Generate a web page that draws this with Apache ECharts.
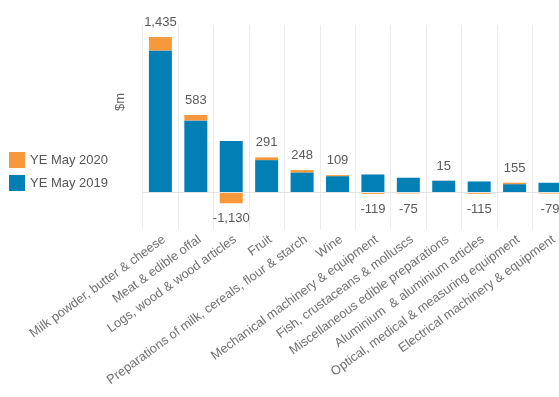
<!DOCTYPE html>
<html>
<head>
<meta charset="utf-8">
<script src="https://cdn.jsdelivr.net/npm/echarts@6/dist/echarts.min.js"></script>
<style>
html,body{margin:0;padding:0;background:#fff;}
#chart{width:559px;height:397px;}
</style>
</head>
<body>
<div id="chart"></div>
<script>
const categories = [
  'Milk powder, butter & cheese',
  'Meat & edible offal',
  'Logs, wood & wood articles',
  'Fruit',
  'Preparations of milk, cereals, flour & starch',
  'Wine',
  'Mechanical machinery & equipment',
  'Fish, crustaceans & molluscs',
  'Miscellaneous edible preparations',
  'Aluminium  & aluminium articles',
  'Optical, medical & measuring equipment',
  'Electrical machinery & equipment'
];
const ye2019 = [15270, 7760, 5540, 3500, 2180, 1780, 1960, 1610, 1290, 1210, 920, 1070];
const change2020 = [1435, 583, -1130, 291, 248, 109, -119, -75, 15, -115, 155, -79];
const seriesNames = ['YE May 2020', 'YE May 2019'];

const FONT = 'Liberation Sans, Arial, sans-serif';
const chart = echarts.init(document.getElementById('chart'));
chart.setOption({
  animation: false,
  textStyle: { fontFamily: FONT },
  grid: { left: 142.7, width: 425, top: 25, bottom: 167, containLabel: false, outerBoundsMode: 'none' },
  legend: {
    orient: 'vertical', left: 9, top: 152, padding: 0,
    itemWidth: 16, itemHeight: 16, itemGap: 7,
    icon: 'rect',
    data: seriesNames,
    textStyle: { fontSize: 13, color: '#555', fontFamily: FONT }
  },
  graphic: [{
    type: 'text', x: 114, y: 111, rotation: Math.PI / 2,
    style: { text: '$m', fontSize: 13, fill: '#666', fontFamily: FONT }
  }],
  xAxis: {
    type: 'category', data: categories,
    axisLine: { show: false, onZero: false },
    axisTick: { show: false },
    splitLine: { show: true, interval: 0, lineStyle: { color: '#ececec', width: 1 } },
    axisLabel: {
      interval: 0, rotate: 36, margin: 3, fontSize: 12.8, color: '#707070', fontFamily: FONT,
      verticalAlign: 'top'
    }
  },
  yAxis: {
    type: 'value', min: -4000, max: 18000,
    axisLabel: { show: false }, axisLine: { show: false }, axisTick: { show: false },
    splitLine: { show: false }
  },
  series: [
    {
      name: seriesNames[1], type: 'bar', stack: 'total', data: ye2019,
      barWidth: 23,
      itemStyle: { color: '#027fb5' },
      markLine: {
        silent: true, symbol: 'none', label: { show: false },
        lineStyle: { color: '#e4e4e4', type: 'solid', width: 1 },
        data: [{ yAxis: 0 }]
      }
    },
    {
      name: seriesNames[0], type: 'bar', stack: 'total',
      barWidth: 23,
      itemStyle: { color: '#f7993b' },
      data: change2020.map(v => ({
        value: v,
        label: {
          show: true,
          position: v >= 0 ? 'top' : 'bottom',
          distance: v >= 0 ? 8 : 9,
          fontSize: 13, color: '#5a5a5a', fontFamily: FONT,
          formatter: p => p.value.toLocaleString('en-US')
        }
      }))
    }
  ]
});
</script>
</body>
</html>
